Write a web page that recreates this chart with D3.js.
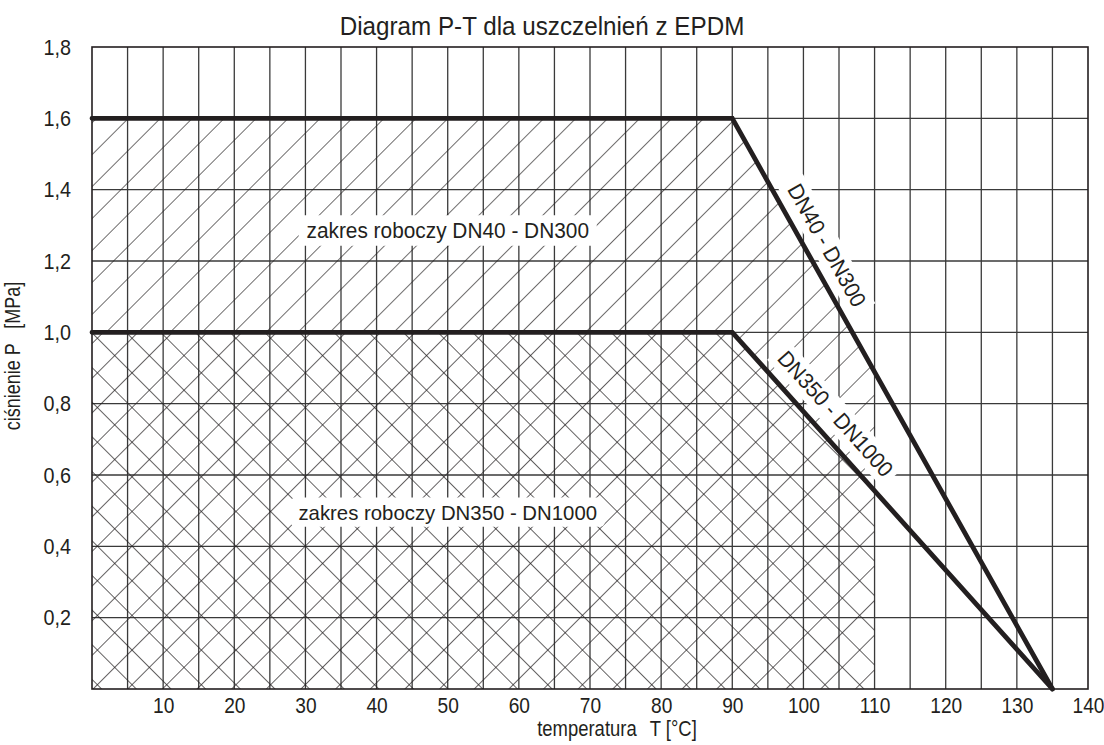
<!DOCTYPE html>
<html lang="pl">
<head>
<meta charset="UTF-8" />
<title>Diagram P-T dla uszczelnień z EPDM</title>
<style>
  body { margin: 0; background: #fff; }
  svg text { font-family: "Liberation Sans", Arial, sans-serif; fill: #231f20; }
</style>
</head>
<body>
<svg width="1104" height="745"></svg>
<script src="https://d3js.org/d3.v7.min.js"></script>
<script>
// axis ticks
const xTicks = [10, 20, 30, 40, 50, 60, 70, 80, 90, 100, 110, 120, 130, 140];
const yTicks = [0.2, 0.4, 0.6, 0.8, 1.0, 1.2, 1.4, 1.6, 1.8];
const yTickLabels = ["0,2", "0,4", "0,6", "0,8", "1,0", "1,2", "1,4", "1,6", "1,8"];

// limit curves (T in °C, P in MPa)
const dn40Temp = [0, 90, 135];
const dn40Pressure = [1.6, 1.6, 0];
const dn350Temp = [0, 90, 135];
const dn350Pressure = [1.0, 1.0, 0];

// hatched working ranges
const upperZoneTemp = [0, 0, 90, 110, 110, 90];
const upperZonePressure = [1.0, 1.6, 1.6, 0.89, 0.56, 1.0];
const lowerZoneTemp = [0, 0, 90, 110, 110];
const lowerZonePressure = [0, 1.0, 1.0, 0.56, 0];

const zoneLabels = ["zakres roboczy DN40 - DN300", "zakres roboczy DN350 - DN1000"];
const curveLabels = ["DN40 - DN300", "DN350 - DN1000"];

const svg = d3.select("svg");
const margin = { top: 47, right: 16, bottom: 56, left: 92 };
const width = 1104 - margin.left - margin.right;
const height = 745 - margin.top - margin.bottom;
const ink = "#231f20";

const x = d3.scaleLinear().domain([0, 140]).range([0, width]);
const y = d3.scaleLinear().domain([0, 1.8]).range([height, 0]);

const defs = svg.append("defs");
defs.append("pattern")
  .attr("id", "hatch")
  .attr("patternUnits", "userSpaceOnUse")
  .attr("width", 22.6).attr("height", 22.6)
  .attr("patternTransform", "translate(" + margin.left + "," + margin.top + ") rotate(45)")
  .append("line")
  .attr("x1", 0).attr("y1", 0).attr("x2", 0).attr("y2", 22.6)
  .attr("stroke", ink).attr("stroke-width", 1.3);

const cross = defs.append("pattern")
  .attr("id", "cross")
  .attr("patternUnits", "userSpaceOnUse")
  .attr("width", 24.5).attr("height", 24.5)
  .attr("patternTransform", "translate(" + margin.left + "," + (margin.top + height) + ") rotate(45)");
cross.append("line")
  .attr("x1", 0).attr("y1", 0).attr("x2", 0).attr("y2", 24.5)
  .attr("stroke", ink).attr("stroke-width", 1.4);
cross.append("line")
  .attr("x1", 0).attr("y1", 0).attr("x2", 24.5).attr("y2", 0)
  .attr("stroke", ink).attr("stroke-width", 1.4);

const g = svg.append("g").attr("transform", `translate(${margin.left},${margin.top})`);

// grid
g.append("g").selectAll("line")
  .data(d3.range(5, 140, 5))
  .join("line")
  .attr("x1", d => x(d)).attr("x2", d => x(d))
  .attr("y1", 0).attr("y2", height)
  .attr("stroke", "#3a3a3a").attr("stroke-width", 1.3);
g.append("g").selectAll("line")
  .data(yTicks.slice(0, -1))
  .join("line")
  .attr("x1", 0).attr("x2", width)
  .attr("y1", d => y(d)).attr("y2", d => y(d))
  .attr("stroke", "#3a3a3a").attr("stroke-width", 1.3);

// hatched zones
const area = d3.line().x(d => x(d[0])).y(d => y(d[1]));
g.append("path")
  .datum(d3.zip(upperZoneTemp, upperZonePressure))
  .attr("d", d => area(d) + "Z")
  .attr("fill", "url(#hatch)");
g.append("path")
  .datum(d3.zip(lowerZoneTemp, lowerZonePressure))
  .attr("d", d => area(d) + "Z")
  .attr("fill", "url(#cross)");

// border
g.append("rect")
  .attr("width", width).attr("height", height)
  .attr("fill", "none").attr("stroke", ink).attr("stroke-width", 1.6);

// zone labels on white boxes
const zonePos = [[50, 1.287], [50, 0.496]];
const zoneSize = [21.5, 21];
zoneLabels.forEach((label, i) => {
  const lg = g.append("g")
    .attr("transform", `translate(${x(zonePos[i][0])},${y(zonePos[i][1])}) scale(0.97,1)`);
  const t = lg.append("text")
    .attr("text-anchor", "middle")
    .attr("dominant-baseline", "central")
    .style("font-size", zoneSize[i] + "px")
    .text(label);
  const bb = t.node().getBBox();
  lg.insert("rect", "text")
    .attr("x", bb.x - 8).attr("y", bb.y - 3)
    .attr("width", bb.width + 16).attr("height", bb.height + 6)
    .attr("rx", 5)
    .attr("fill", "#fff");
});

// curve labels, rotated along each slope
const curves = [
  { T: dn40Temp, P: dn40Pressure, frac: 0.24, off: 20 },
  { T: dn350Temp, P: dn350Pressure, frac: 0.27, off: 22 }
];
curves.forEach((c, i) => {
  const x0 = x(c.T[1]), y0 = y(c.P[1]);
  const x1 = x(c.T[2]), y1 = y(c.P[2]);
  const ang = Math.atan2(y1 - y0, x1 - x0) * 180 / Math.PI;
  const px = x0 + (x1 - x0) * c.frac, py = y0 + (y1 - y0) * c.frac;
  const lg = g.append("g")
    .attr("transform", `translate(${px},${py}) rotate(${ang}) translate(0,${-c.off}) scale(0.95,1)`);
  const t = lg.append("text")
    .attr("text-anchor", "middle")
    .attr("dominant-baseline", "central")
    .style("font-size", "22px")
    .text(curveLabels[i]);
  const bb = t.node().getBBox();
  lg.insert("rect", "text")
    .attr("x", bb.x - 6).attr("y", bb.y - 2)
    .attr("width", bb.width + 12).attr("height", bb.height + 4)
    .attr("fill", "#fff");
});

// limit curves
const curve = d3.line().x(d => x(d[0])).y(d => y(d[1]));
[[dn40Temp, dn40Pressure], [dn350Temp, dn350Pressure]].forEach(s => {
  g.append("path")
    .datum(d3.zip(s[0], s[1]))
    .attr("d", curve)
    .attr("fill", "none")
    .attr("stroke", ink)
    .attr("stroke-width", 4.8)
    .attr("stroke-linecap", "round");
});

// axes (labels only)
const xAxis = g.append("g")
  .attr("transform", `translate(0,${height})`)
  .call(d3.axisBottom(x).tickValues(xTicks).tickSize(0).tickPadding(8));
xAxis.select(".domain").remove();
xAxis.selectAll("text")
  .style("font-size", "22px")
  .attr("transform", "scale(0.87,1)")
  .attr("fill", ink);

const yAxis = g.append("g")
  .call(d3.axisLeft(y).tickValues(yTicks).tickFormat((d, i) => yTickLabels[i]).tickSize(0).tickPadding(0));
yAxis.select(".domain").remove();
yAxis.selectAll("text")
  .style("font-size", "22px")
  .attr("x", 0)
  .attr("transform", "translate(-21,0) scale(0.9,1)")
  .attr("fill", ink);

// titles
svg.append("text")
  .attr("transform", "translate(542,35) scale(0.95,1)")
  .attr("text-anchor", "middle")
  .style("font-size", "25.5px")
  .text("Diagram P-T dla uszczelnień z EPDM");

const xt = svg.append("text")
  .attr("transform", "translate(617,736) scale(0.82,1)")
  .attr("text-anchor", "middle")
  .style("font-size", "22.5px");
xt.append("tspan").text("temperatura");
xt.append("tspan").attr("dx", 16).text("T [°C]");

const yt = svg.append("text")
  .attr("transform", "translate(20,356) rotate(-90) scale(0.8,1)")
  .attr("text-anchor", "middle")
  .style("font-size", "22.5px");
yt.append("tspan").text("ciśnienie P");
yt.append("tspan").attr("dx", 18).text("[MPa]");
</script>
</body>
</html>
